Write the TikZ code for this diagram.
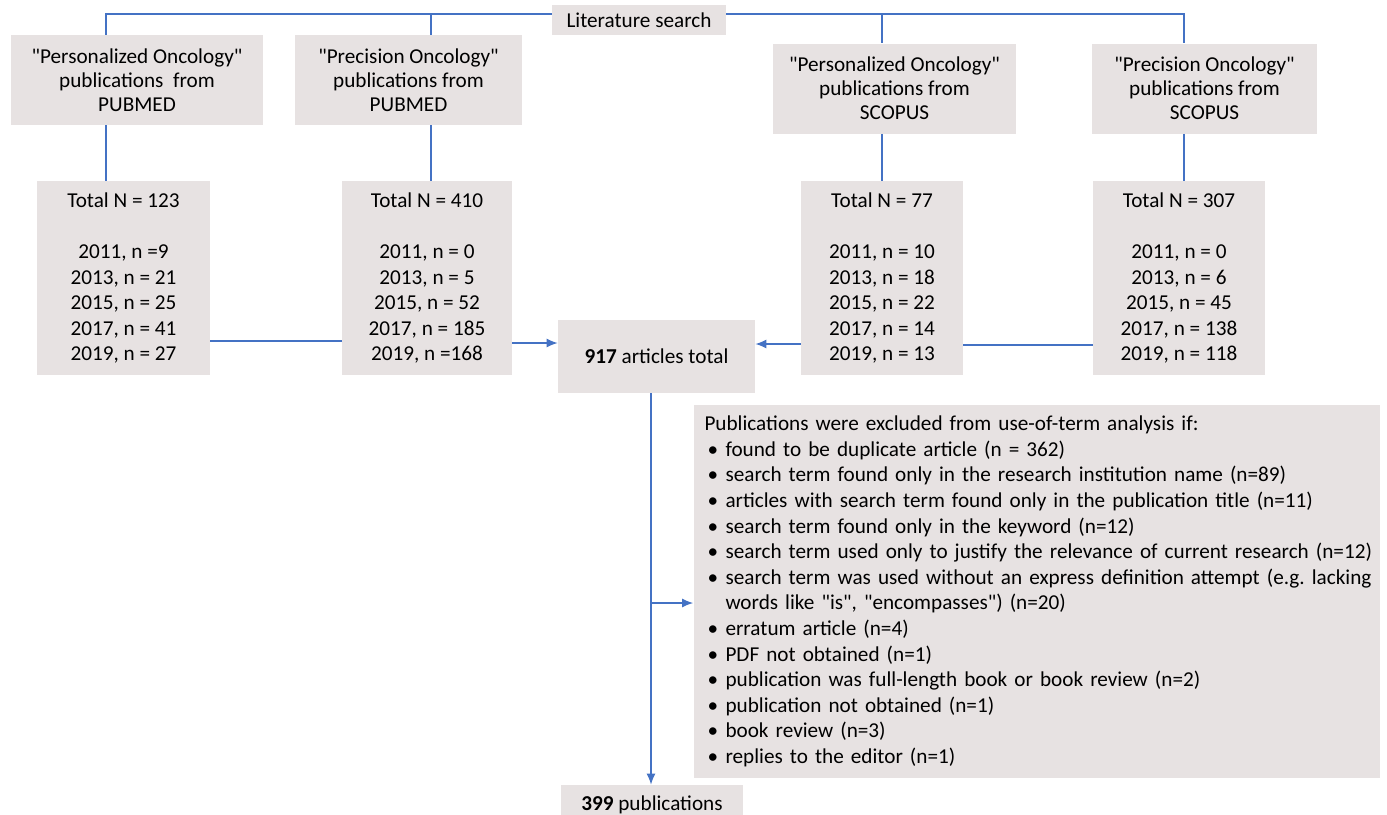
\documentclass[tikz,border=0pt]{standalone}
\usepackage{fontspec}
\setmainfont{Carlito}[Ligatures=TeXOff]
\usetikzlibrary{arrows.meta, positioning}

\definecolor{boxgray}{HTML}{E7E2E2}
\definecolor{linkblue}{HTML}{4472C4}
\newcommand{\bul}[1]{\hspace*{1.5pt}\makebox[9pt][l]{\textbullet}\mbox{#1}}

\begin{document}
\frenchspacing
\begin{tikzpicture}[x=0.5pt, y=-0.5pt, >={Latex[length=5.5pt,width=4.5pt]},
	box/.style={fill=boxgray, inner sep=0pt, align=center, font=\fontsize{10.6}{12}\selectfont},
	srcbox/.style={box, minimum width=#1, minimum height=45pt},
	countbox/.style={box, minimum width=#1, minimum height=97pt, font=\fontsize{10.6}{12.8}\selectfont},
	link/.style={draw=linkblue, line width=0.6pt}]
			\useasboundingbox (0,0) rectangle (1387,814);

			\node[box, minimum width=87pt, minimum height=15pt] (lit) at (639,20) {Literature search};

			\node[srcbox=126pt] (po_pub) at (137,80) {"Personalized Oncology"\\publications\ \ from\\PUBMED};
			\node[srcbox=113.5pt] (pr_pub) at (408.5,80) {"Precision Oncology"\\publications from\\PUBMED};
			\node[srcbox=121.5pt] (po_sco) at (894.5,88.5) {"Personalized Oncology"\\publications from\\SCOPUS};
			\node[srcbox=112.5pt] (pr_sco) at (1204.5,88.5) {"Precision Oncology"\\publications from\\SCOPUS};

			\node[countbox=86.5pt] (cnt1) at (123.5,278) {Total N = 123\\[12.8pt]2011, n =9\\2013, n = 21\\2015, n = 25\\2017, n = 41\\2019, n = 27};
			\node[countbox=85pt] (cnt2) at (427,278) {Total N = 410\\[12.8pt]2011, n = 0\\2013, n = 5~\\2015, n = 52~\\2017, n = 185\\2019, n =168};
			\node[countbox=81pt] (cnt3) at (882,278) {Total N = 77\\[12.8pt]2011, n = 10\\2013, n = 18~\\2015, n = 22\\2017, n = 14\\2019, n = 13};
			\node[countbox=86pt] (cnt4) at (1179,278) {Total N = 307\\[12.8pt]2011, n = 0\\2013, n = 6\\2015, n = 45\\2017, n = 138\\2019, n = 118};

			\node[box, minimum width=98.5pt, minimum height=36.5pt] (total) at (656.5,356.5) {\textbf{917} articles total};

			\node[box, align=left, text width=332pt, minimum height=186.5pt, inner xsep=5.5pt,
				font=\fontsize{10.6}{12.8}\selectfont] (excl) at (1036.5,591.5) {%
				Publications were excluded from use-of-term analysis if:\\
				\bul{found to be duplicate article (n = 362)}\\
				\bul{search term found only in the research institution name (n=89)}\\
				\bul{articles with search term found only in the publication title (n=11)}\\
				\bul{search term found only in the keyword (n=12)}\\
				\bul{search term used only to justify the relevance of current research (n=12)}\\
				\bul{search term was used without an express definition attempt (e.g. lacking}\\
				\hspace*{10.5pt}\mbox{words like "is", "encompasses") (n=20)}\\
				\bul{erratum article (n=4)}\\
				\bul{PDF not obtained (n=1)}\\
				\bul{publication was full-length book or book review (n=2)}\\
				\bul{publication not obtained (n=1)}\\
				\bul{book review (n=3)}\\
				\bul{replies to the editor (n=1)}};

			\node[box, minimum width=91pt, minimum height=20pt] (pub) at (652,805) {\textbf{399} publications};

			\coordinate (split) at (651,603);

			\draw[link] ([yshift=3pt]lit.west) -| ([xshift=-15.5pt]po_pub.north);
			\draw[link] ([yshift=3pt]lit.west) -| ([xshift=11.25pt]pr_pub.north);
			\draw[link] ([yshift=3pt]lit.east) -| ([xshift=-6.25pt]po_sco.north);
			\draw[link] ([yshift=3pt]lit.east) -| ([xshift=-10.25pt]pr_sco.north);

			\draw[link] ([xshift=-15.5pt]po_pub.south) -- ([xshift=-8.75pt]cnt1.north);
			\draw[link] ([xshift=11.25pt]pr_pub.south) -- ([xshift=2pt]cnt2.north);
			\draw[link] ([xshift=-6.25pt]po_sco.south) -- (cnt3.north);
			\draw[link] ([xshift=-10.25pt]pr_sco.south) -- ([xshift=2.5pt]cnt4.north);

			\draw[link] ([yshift=-31.5pt]cnt1.east) -- ([yshift=-31.5pt]cnt2.west);
			\draw[link, ->] ([yshift=-32.5pt]cnt2.east) -- ([yshift=6.75pt]total.west);
			\draw[link] ([yshift=-33.5pt]cnt4.west) -- ([yshift=-33.5pt]cnt3.east);
			\draw[link, ->] ([yshift=-33pt]cnt3.west) -- ([yshift=6.25pt]total.east);

			\draw[link] ([xshift=-2.75pt]total.south) -- (split);
			\draw[link, ->] (split) -- (split |- pub.north);
			\draw[link, ->] (split) -- (split -| excl.west);
		\end{tikzpicture}
\end{document}
